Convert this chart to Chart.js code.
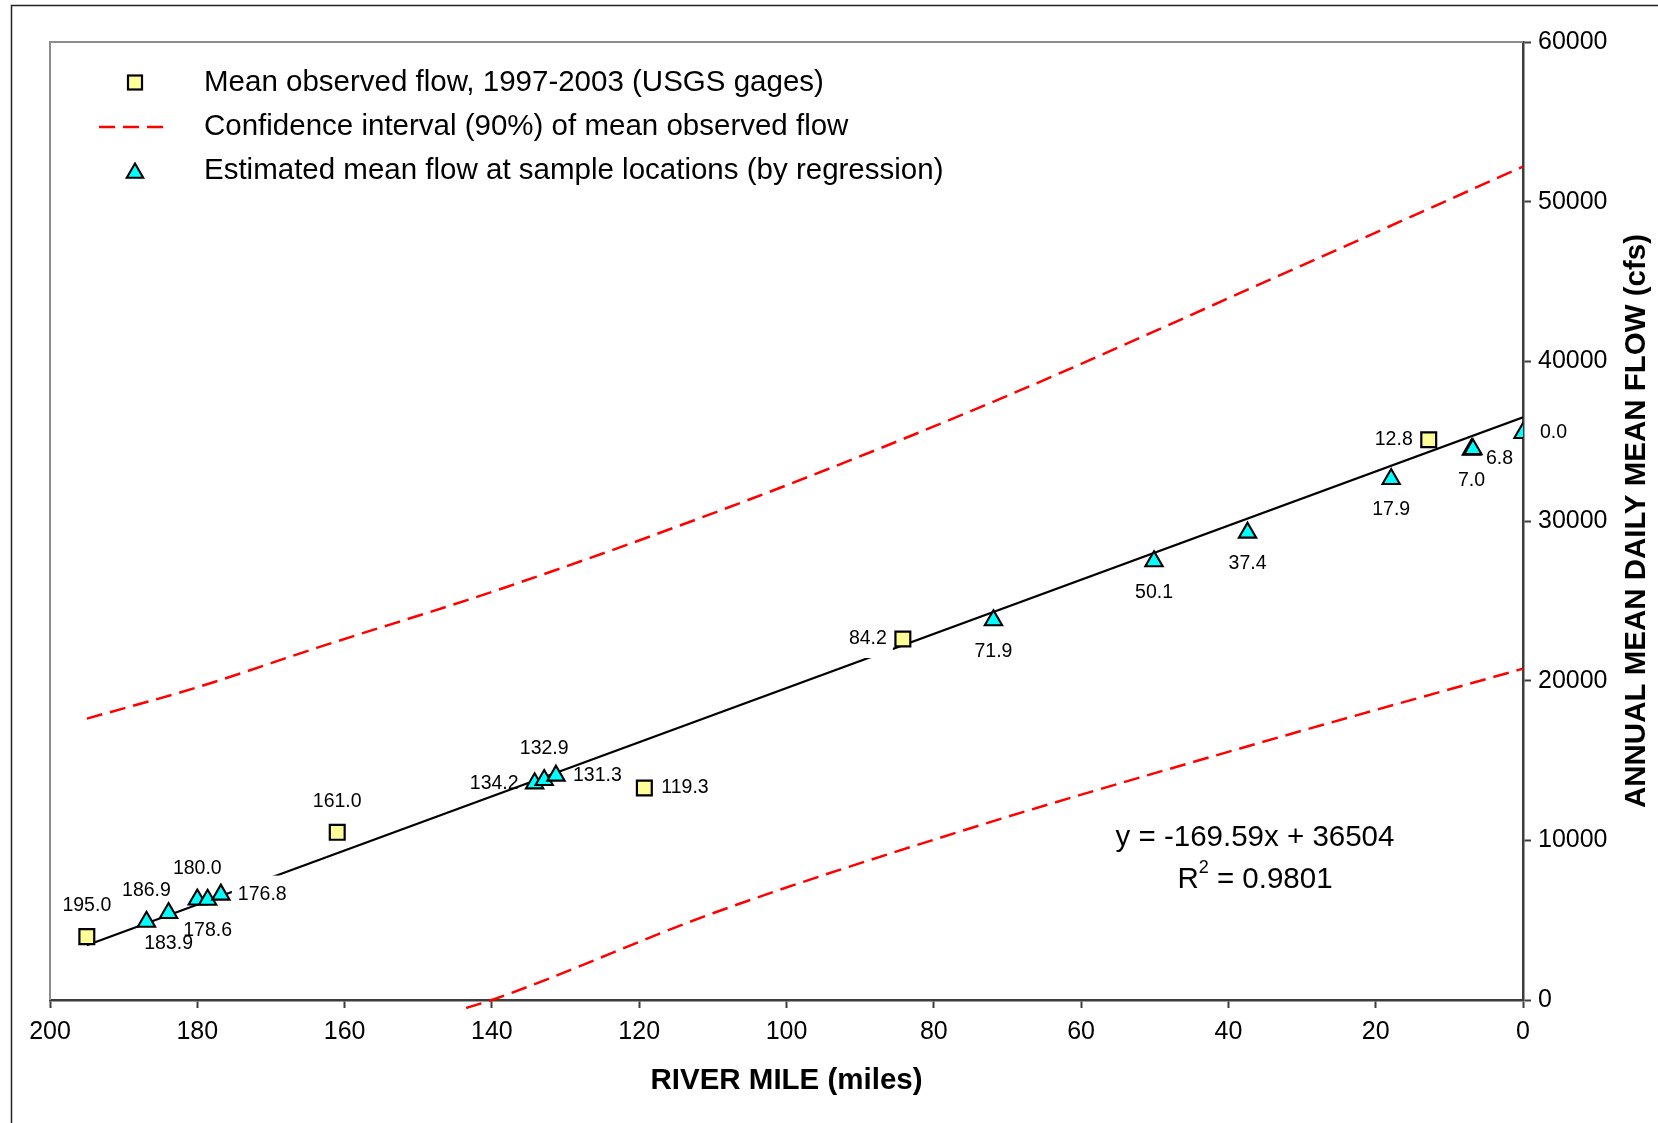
<!DOCTYPE html>
<html>
<head>
<meta charset="utf-8">
<script src="https://cdn.jsdelivr.net/npm/chart.js@4.4.1/dist/chart.umd.min.js"></script>
<style>
html,body{margin:0;padding:0;background:#fff;}
#wrap{width:1658px;height:1123px;position:relative;}
</style>
</head>
<body>
<div id="wrap"><canvas id="c" width="1658" height="1123"></canvas></div>
<script>
// ---------------- DATA ----------------
const observedMiles = [195.0, 161.0, 119.3, 84.2, 12.8];
const observedFlow  = [3970, 10500, 13280, 22610, 35090];

const estimatedMiles = [186.9, 183.9, 180.0, 178.6, 176.8, 134.2, 132.9, 131.3, 71.9, 50.1, 37.4, 17.9, 7.0, 6.8, 0.0];
const estimatedFlow  = [4900, 5450, 6290, 6280, 6600, 13570, 13780, 14050, 23780, 27480, 29270, 32630, 34470, 34500, 35510];

const upperMiles = [195, 179.6, 163.8, 138, 104.5, 71, 36.4, 0];
const upperFlow  = [17620, 19640, 22050, 25870, 31440, 37650, 44690, 52200];

const lowerMiles = [143.5, 140, 109.9, 76.4, 39.2, 0];
const lowerFlow  = [-500, 0, 5450, 10560, 15650, 20750];

const trendMiles = [195, 0];
const trendFlow  = [3430, 36500];

const xTickValues = [200, 180, 160, 140, 120, 100, 80, 60, 40, 20, 0];
const yTickValues = [0, 10000, 20000, 30000, 40000, 50000, 60000];

const legendLabels = [
  'Mean observed flow, 1997-2003 (USGS gages)',
  'Confidence interval (90%) of mean observed flow',
  'Estimated mean flow at sample locations (by regression)'
];
const xTitle = 'RIVER MILE (miles)';
const yTitle = 'ANNUAL MEAN DAILY MEAN FLOW (cfs)';
const equationText = 'y = -169.59x + 36504';
const r2Value = '0.9801';

// label placement codes (style): a=above, b=below, r=right, l=left, rb=right-below
const observedLabelPos  = ['a', 'a', 'r', 'l', 'l'];
const estimatedLabelPos = ['a', 'b', 'a', 'b', 'r', 'l', 'a', 'r', 'b', 'b', 'b', 'b', 'b', 'rb', 'r'];
// labels drawn with an opaque white box (style)
const observedLabelBoxed  = [false, false, false, true, false];
const estimatedLabelBoxed = [false, false, false, false, true, false, false, false, false, false, false, false, false, false, false];

// ---------------- STYLE ----------------
const FONT = "'Liberation Sans', Arial, Helvetica, sans-serif";
const LABEL_OFFSETS = {a:[0,-31,'center'], b:[0,31,'center'], r:[17,0,'left'], l:[-16,0,'right'], rb:[13,9,'left']};
const SQ_FILL = '#FFFF99', TRI_FILL = '#00FFFF', CI_COLOR = '#FF0000';
const TREND_LABEL = 'Trend';
const LABEL_FONT = '19.5px ' + FONT;
const BIG = 29.5;

const toPts = (xs, ys) => xs.map((x, i) => ({x: x, y: ys[i]}));

function labelItems(chart) {
  const xs = chart.scales.x, ys = chart.scales.y;
  const items = [];
  const add = (miles, flows, pos, boxed) => miles.forEach((m, i) => {
    const o = LABEL_OFFSETS[pos[i]];
    items.push({text: m.toFixed(1), x: xs.getPixelForValue(m) + o[0], y: ys.getPixelForValue(flows[i]) + o[1], align: o[2], boxed: boxed[i]});
  });
  add(observedMiles, observedFlow, observedLabelPos, observedLabelBoxed);
  add(estimatedMiles, estimatedFlow, estimatedLabelPos, estimatedLabelBoxed);
  return items;
}

function triPath(ctx, x, y, r) {
  ctx.beginPath();
  ctx.moveTo(x, y - r);
  ctx.lineTo(x + r * 0.866, y + r * 0.5);
  ctx.lineTo(x - r * 0.866, y + r * 0.5);
  ctx.closePath();
}

const deco = {
  id: 'deco',
  beforeDatasetsDraw(chart) {
    const {ctx, chartArea: a} = chart;
    ctx.save();
    ctx.strokeStyle = '#8c8c8c';
    ctx.lineWidth = 2;
    ctx.beginPath();
    ctx.moveTo(a.left, a.bottom);
    ctx.lineTo(a.left, a.top);
    ctx.lineTo(a.right, a.top);
    ctx.stroke();
    ctx.restore();
  },
  afterDatasetDraw(chart, args) {
    if (chart.data.datasets[args.index].label !== TREND_LABEL) return;
    const ctx = chart.ctx;
    ctx.save();
    ctx.font = LABEL_FONT;
    ctx.fillStyle = '#ffffff';
    labelItems(chart).forEach(it => {
      if (!it.boxed) return;
      const w = ctx.measureText(it.text).width + 12;
      let left = it.x - w / 2;
      if (it.align === 'left') left = it.x - 6;
      if (it.align === 'right') left = it.x - w + 6;
      ctx.fillRect(left, it.y - 19, w, 38);
    });
    ctx.restore();
  },
  afterDatasetsDraw(chart) {
    const ctx = chart.ctx;
    ctx.save();
    ctx.font = LABEL_FONT;
    ctx.fillStyle = '#000';
    ctx.textBaseline = 'middle';
    labelItems(chart).forEach(it => {
      ctx.textAlign = it.align;
      ctx.fillText(it.text, it.x, it.y);
    });
    ctx.restore();
  },
  afterDraw(chart) {
    const ctx = chart.ctx;
    const a = chart.chartArea;
    ctx.save();
    // outer border
    ctx.strokeStyle = '#222';
    ctx.lineWidth = 1.5;
    ctx.strokeRect(11.5, 5.5, 1800, 1300);

    // legend
    ctx.textBaseline = 'middle';
    ctx.textAlign = 'left';
    ctx.font = BIG + 'px ' + FONT;
    ctx.fillStyle = '#000';
    const ly = [82.5, 127, 171];
    legendLabels.forEach((t, i) => ctx.fillText(t, 204, ly[i]));
    // square
    ctx.fillStyle = SQ_FILL; ctx.strokeStyle = '#000'; ctx.lineWidth = 2.2;
    ctx.fillRect(128, 75.5, 14, 14); ctx.strokeRect(128, 75.5, 14, 14);
    // dashed
    ctx.strokeStyle = CI_COLOR; ctx.lineWidth = 2.5; ctx.setLineDash([16, 8]);
    ctx.beginPath(); ctx.moveTo(99, 127); ctx.lineTo(170, 127); ctx.stroke();
    ctx.setLineDash([]);
    // triangle
    triPath(ctx, 135, 173, 9.5);
    ctx.fillStyle = TRI_FILL; ctx.fill();
    ctx.strokeStyle = '#000'; ctx.lineWidth = 2.1; ctx.stroke();

    // axis titles
    ctx.fillStyle = '#000';
    ctx.font = 'bold ' + BIG + 'px ' + FONT;
    ctx.textAlign = 'center';
    ctx.fillText(xTitle, (a.left + a.right) / 2, 1081);
    ctx.save();
    ctx.translate(1637, (a.top + a.bottom) / 2);
    ctx.rotate(-Math.PI / 2);
    ctx.fillText(yTitle, 0, 0);
    ctx.restore();

    // equation
    ctx.font = BIG + 'px ' + FONT;
    ctx.textAlign = 'center';
    ctx.fillText(equationText, 1255, 838);
    const p1 = 'R', p3 = ' = ' + r2Value;
    const w1 = ctx.measureText(p1).width, w3 = ctx.measureText(p3).width;
    ctx.font = '18px ' + FONT;
    const w2 = ctx.measureText('2').width;
    let sx = 1255 - (w1 + w2 + w3) / 2;
    ctx.textAlign = 'left';
    ctx.font = BIG + 'px ' + FONT;
    ctx.fillText(p1, sx, 880);
    ctx.font = '18px ' + FONT;
    ctx.fillText('2', sx + w1, 868);
    ctx.font = BIG + 'px ' + FONT;
    ctx.fillText(p3, sx + w1 + w2, 880);
    ctx.restore();
  }
};

const AXIS_COLOR = '#3c3c3c';

new Chart(document.getElementById('c'), {
  type: 'scatter',
  data: {
    datasets: [
      {
        label: legendLabels[0],
        data: toPts(observedMiles, observedFlow),
        pointStyle: 'rect', pointRadius: 10.5, pointHoverRadius: 10.5,
        backgroundColor: SQ_FILL, borderColor: '#000', borderWidth: 2.2, showLine: false
      },
      {
        label: legendLabels[2],
        data: toPts(estimatedMiles, estimatedFlow),
        pointStyle: 'triangle', pointRadius: 10, pointHoverRadius: 10,
        backgroundColor: TRI_FILL, borderColor: '#000', borderWidth: 2.1, showLine: false
      },
      {
        label: legendLabels[1],
        data: toPts(upperMiles, upperFlow),
        showLine: true, borderColor: CI_COLOR, borderWidth: 2.5, borderDash: [16, 8],
        pointRadius: 0, pointHoverRadius: 0, fill: false, cubicInterpolationMode: 'monotone'
      },
      {
        label: 'Lower CI',
        data: toPts(lowerMiles, lowerFlow),
        showLine: true, borderColor: CI_COLOR, borderWidth: 2.5, borderDash: [16, 8],
        pointRadius: 0, pointHoverRadius: 0, fill: false, cubicInterpolationMode: 'monotone',
        clip: {left: 0, top: 0, right: 0, bottom: 10}
      },
      {
        label: TREND_LABEL,
        data: toPts(trendMiles, trendFlow),
        showLine: true, borderColor: '#000', borderWidth: 2.2,
        pointRadius: 0, pointHoverRadius: 0, fill: false
      }
    ]
  },
  options: {
    responsive: false,
    animation: false,
    devicePixelRatio: 1,
    layout: {padding: {left: 50, top: 42, right: 0, bottom: 0}},
    plugins: {legend: {display: false}, tooltip: {enabled: false}},
    scales: {
      x: {
        type: 'linear', position: 'bottom', reverse: true, min: 0, max: 200,
        afterFit: s => { s.height = 123; },
        afterBuildTicks: s => { s.ticks = xTickValues.map(v => ({value: v})); },
        ticks: {color: '#000', font: {family: FONT, size: 25}, padding: 9, maxRotation: 0, autoSkip: false,
                callback: v => String(v)},
        grid: {drawOnChartArea: false, drawTicks: true, tickLength: 8, tickColor: AXIS_COLOR, tickWidth: 2},
        border: {display: true, color: AXIS_COLOR, width: 2.5}
      },
      y: {
        type: 'linear', position: 'right', min: 0, max: 60000,
        afterFit: s => { s.width = 135; },
        afterBuildTicks: s => { s.ticks = yTickValues.map(v => ({value: v})); },
        ticks: {color: '#000', font: {family: FONT, size: 25}, padding: 7, autoSkip: false,
                callback: v => String(v)},
        grid: {drawOnChartArea: false, drawTicks: true, tickLength: 8, tickColor: AXIS_COLOR, tickWidth: 2},
        border: {display: true, color: AXIS_COLOR, width: 2.5}
      }
    }
  },
  plugins: [deco]
});
</script>
</body>
</html>
